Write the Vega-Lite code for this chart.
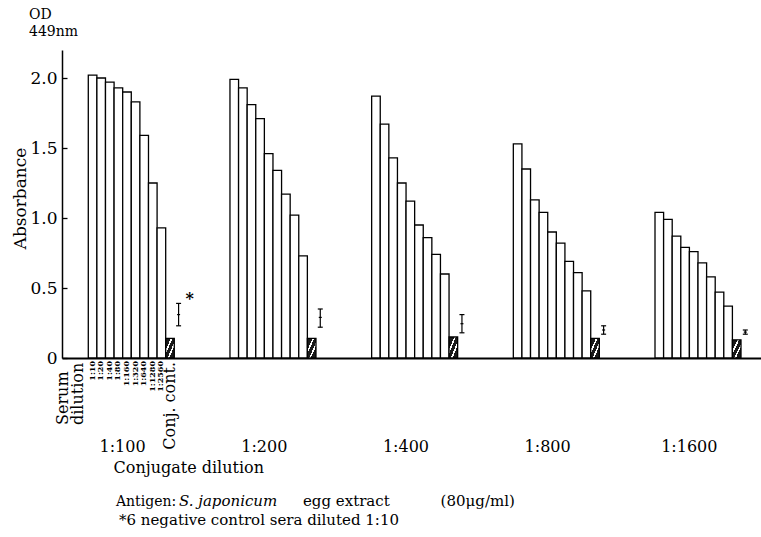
{
  "$schema": "https://vega.github.io/schema/vega-lite/v6.json",
  "width": 699,
  "height": 308,
  "autosize": {"type": "none"},
  "padding": {"left": 62, "top": 50, "right": 0, "bottom": 179},
  "background": "white",
  "config": {"font": "DejaVu Serif", "view": {"stroke": null}, "axis": {"grid": false}, "axisY": {"ticks": true, "tickSize": 5, "tickColor": "black", "tickWidth": 1.3, "labelOverlap": false}},
  "datasets": {
    "bars": [
      {"conj": "1:100", "serum": "1:10", "od": 2.02},
      {"conj": "1:100", "serum": "1:20", "od": 2.00},
      {"conj": "1:100", "serum": "1:40", "od": 1.97},
      {"conj": "1:100", "serum": "1:80", "od": 1.93},
      {"conj": "1:100", "serum": "1:160", "od": 1.90},
      {"conj": "1:100", "serum": "1:320", "od": 1.83},
      {"conj": "1:100", "serum": "1:640", "od": 1.59},
      {"conj": "1:100", "serum": "1:1280", "od": 1.25},
      {"conj": "1:100", "serum": "1:2560", "od": 0.93},
      {"conj": "1:100", "serum": "Conj. cont.", "od": 0.14},
      {"conj": "1:200", "serum": "1:10", "od": 1.99},
      {"conj": "1:200", "serum": "1:20", "od": 1.93},
      {"conj": "1:200", "serum": "1:40", "od": 1.81},
      {"conj": "1:200", "serum": "1:80", "od": 1.71},
      {"conj": "1:200", "serum": "1:160", "od": 1.46},
      {"conj": "1:200", "serum": "1:320", "od": 1.34},
      {"conj": "1:200", "serum": "1:640", "od": 1.17},
      {"conj": "1:200", "serum": "1:1280", "od": 1.02},
      {"conj": "1:200", "serum": "1:2560", "od": 0.73},
      {"conj": "1:200", "serum": "Conj. cont.", "od": 0.14},
      {"conj": "1:400", "serum": "1:10", "od": 1.87},
      {"conj": "1:400", "serum": "1:20", "od": 1.67},
      {"conj": "1:400", "serum": "1:40", "od": 1.43},
      {"conj": "1:400", "serum": "1:80", "od": 1.25},
      {"conj": "1:400", "serum": "1:160", "od": 1.12},
      {"conj": "1:400", "serum": "1:320", "od": 0.95},
      {"conj": "1:400", "serum": "1:640", "od": 0.86},
      {"conj": "1:400", "serum": "1:1280", "od": 0.74},
      {"conj": "1:400", "serum": "1:2560", "od": 0.60},
      {"conj": "1:400", "serum": "Conj. cont.", "od": 0.15},
      {"conj": "1:800", "serum": "1:10", "od": 1.53},
      {"conj": "1:800", "serum": "1:20", "od": 1.35},
      {"conj": "1:800", "serum": "1:40", "od": 1.13},
      {"conj": "1:800", "serum": "1:80", "od": 1.04},
      {"conj": "1:800", "serum": "1:160", "od": 0.90},
      {"conj": "1:800", "serum": "1:320", "od": 0.82},
      {"conj": "1:800", "serum": "1:640", "od": 0.69},
      {"conj": "1:800", "serum": "1:1280", "od": 0.61},
      {"conj": "1:800", "serum": "1:2560", "od": 0.48},
      {"conj": "1:800", "serum": "Conj. cont.", "od": 0.14},
      {"conj": "1:1600", "serum": "1:10", "od": 1.04},
      {"conj": "1:1600", "serum": "1:20", "od": 0.99},
      {"conj": "1:1600", "serum": "1:40", "od": 0.87},
      {"conj": "1:1600", "serum": "1:80", "od": 0.79},
      {"conj": "1:1600", "serum": "1:160", "od": 0.76},
      {"conj": "1:1600", "serum": "1:320", "od": 0.68},
      {"conj": "1:1600", "serum": "1:640", "od": 0.58},
      {"conj": "1:1600", "serum": "1:1280", "od": 0.47},
      {"conj": "1:1600", "serum": "1:2560", "od": 0.37},
      {"conj": "1:1600", "serum": "Conj. cont.", "od": 0.13}
    ],
    "neg": [
      {"conj": "1:100", "serum": "Neg. cont.", "mean": 0.31, "lo": 0.23, "hi": 0.39, "note": "*"},
      {"conj": "1:200", "serum": "Neg. cont.", "mean": 0.29, "lo": 0.22, "hi": 0.35, "note": ""},
      {"conj": "1:400", "serum": "Neg. cont.", "mean": 0.245, "lo": 0.18, "hi": 0.31, "note": ""},
      {"conj": "1:800", "serum": "Neg. cont.", "mean": 0.20, "lo": 0.17, "hi": 0.23, "note": ""},
      {"conj": "1:1600", "serum": "Neg. cont.", "mean": 0.185, "lo": 0.17, "hi": 0.20, "note": ""}
    ]
  },
  "layer": [
    {
      "data": {"name": "bars"},
      "transform": [{"filter": "datum.serum != 'Conj. cont.'"}],
      "mark": {"type": "bar", "fill": "white", "stroke": "black", "strokeWidth": 1.3},
      "encoding": {
        "x": {
          "field": "conj", "type": "nominal",
          "scale": {"domain": ["1:100", "1:200", "1:400", "1:800", "1:1600"], "paddingInner": 0.3323, "paddingOuter": 0.133, "align": 0.6976},
          "axis": {"title": "Conjugate dilution", "titleFontSize": 16, "titleFontWeight": "normal", "titleColor": "black", "titleX": 51, "titleY": 114, "titleAlign": "left", "titleAnchor": "start", "titleBaseline": "alphabetic", "labelFontSize": 16, "labelColor": "black", "labelPadding": 80, "labelOffset": -13, "labelAngle": 0, "ticks": false, "domainColor": "black", "domainWidth": 2}
        },
        "xOffset": {
          "field": "serum", "type": "nominal",
          "scale": {"domain": ["1:10", "1:20", "1:40", "1:80", "1:160", "1:320", "1:640", "1:1280", "1:2560", "Conj. cont.", "Neg. cont."], "paddingInner": 0, "paddingOuter": 0}
        },
        "y": {
          "field": "od", "type": "quantitative",
          "scale": {"domain": [0, 2.2], "nice": false, "zero": true},
          "axis": {"orient": "right", "offset": -699,
            "title": "Absorbance", "titleFontSize": 17, "titleFontWeight": "normal", "titleColor": "black", "titleX": -42, "titleY": 148, "titleAngle": 270, "titleBaseline": "middle", "titleAlign": "center",
            "values": [0, 0.5, 1.0, 1.5, 2.0],
            "labelExpr": "datum.value == 0 ? '0' : format(datum.value, '.1f')",
            "labelFontSize": 17, "labelColor": "black", "labelAlign": "right", "labelPadding": -10,
            "domainColor": "black", "domainWidth": 1.5}
        }
      }
    },
    {
      "data": {"name": "bars"},
      "transform": [{"filter": "datum.serum == 'Conj. cont.'"}],
      "mark": {"type": "bar", "stroke": "black", "strokeWidth": 1.3,
        "fill": {"gradient": "linear", "x1": 0, "y1": 0, "x2": 1, "y2": 1, "stops": [
          {"offset": 0, "color": "#1a1a1a"}, {"offset": 0.3, "color": "#1a1a1a"}, {"offset": 0.3, "color": "#ffffff"}, {"offset": 0.4, "color": "#ffffff"},
          {"offset": 0.4, "color": "#1a1a1a"}, {"offset": 0.6, "color": "#1a1a1a"}, {"offset": 0.6, "color": "#ffffff"}, {"offset": 0.7, "color": "#ffffff"},
          {"offset": 0.7, "color": "#1a1a1a"}, {"offset": 1, "color": "#1a1a1a"}]}},
      "encoding": {
        "x": {"field": "conj", "type": "nominal"},
        "xOffset": {"field": "serum", "type": "nominal"},
        "y": {"field": "od", "type": "quantitative"}
      }
    },
    {
      "data": {"name": "neg"},
      "mark": {"type": "rule", "stroke": "black", "strokeWidth": 1.2},
      "encoding": {
        "x": {"field": "conj", "type": "nominal"},
        "xOffset": {"field": "serum", "type": "nominal"},
        "y": {"field": "lo", "type": "quantitative"},
        "y2": {"field": "hi"}
      }
    },
    {
      "data": {"name": "neg"},
      "transform": [{"fold": ["lo", "hi"], "as": ["k", "v"]}],
      "mark": {"type": "tick", "color": "black", "size": 5, "thickness": 1.2, "opacity": 1},
      "encoding": {
        "x": {"field": "conj", "type": "nominal"},
        "xOffset": {"field": "serum", "type": "nominal"},
        "y": {"field": "v", "type": "quantitative"}
      }
    },
    {
      "data": {"name": "neg"},
      "mark": {"type": "tick", "color": "black", "size": 3, "thickness": 1.2, "opacity": 1},
      "encoding": {
        "x": {"field": "conj", "type": "nominal"},
        "xOffset": {"field": "serum", "type": "nominal"},
        "y": {"field": "mean", "type": "quantitative"}
      }
    },
    {
      "data": {"name": "neg"},
      "transform": [{"filter": "datum.note != ''"}],
      "mark": {"type": "text", "fontSize": 16, "fontWeight": "bold", "color": "black", "dx": 11, "dy": -4, "baseline": "middle"},
      "encoding": {
        "x": {"field": "conj", "type": "nominal"},
        "xOffset": {"field": "serum", "type": "nominal"},
        "y": {"field": "hi", "type": "quantitative"},
        "text": {"field": "note"}
      }
    },
    {
      "data": {"name": "bars"},
      "transform": [{"filter": "datum.conj == '1:100' && datum.serum != 'Conj. cont.'"}],
      "mark": {"type": "text", "angle": 270, "align": "right", "baseline": "middle", "fontSize": 8, "fontWeight": "bold", "color": "black", "dx": -3},
      "encoding": {
        "x": {"field": "conj", "type": "nominal"},
        "xOffset": {"field": "serum", "type": "nominal"},
        "y": {"datum": 0},
        "text": {"field": "serum"}
      }
    },
    {
      "data": {"name": "bars"},
      "transform": [{"filter": "datum.conj == '1:100' && datum.serum == 'Conj. cont.'"}],
      "mark": {"type": "text", "angle": 270, "align": "right", "baseline": "middle", "fontSize": 16, "color": "black", "dx": -4},
      "encoding": {
        "x": {"field": "conj", "type": "nominal"},
        "xOffset": {"field": "serum", "type": "nominal"},
        "y": {"datum": 0},
        "text": {"field": "serum"}
      }
    },
    {
      "data": {"values": [{}]},
      "mark": {"type": "text", "text": ["Serum", "dilution"], "angle": 270, "align": "left", "baseline": "middle", "fontSize": 16, "lineHeight": 15, "color": "black", "dx": -67, "dy": -30},
      "encoding": {
        "x": {"datum": "1:100", "type": "nominal"},
        "xOffset": {"datum": "1:10", "type": "nominal"},
        "y": {"datum": 0, "type": "quantitative"}
      }
    },
    {
      "data": {"values": [{}]},
      "mark": {"type": "text", "text": "OD", "align": "left", "baseline": "alphabetic", "fontSize": 14, "color": "black", "dx": -106.6, "dy": -31},
      "encoding": {
        "x": {"datum": "1:100", "type": "nominal"},
        "y": {"datum": 2.2, "type": "quantitative"}
      }
    },
    {
      "data": {"values": [{}]},
      "mark": {"type": "text", "text": "449nm", "align": "left", "baseline": "alphabetic", "fontSize": 14, "color": "black", "dx": -106.6, "dy": -14},
      "encoding": {
        "x": {"datum": "1:100", "type": "nominal"},
        "y": {"datum": 2.2, "type": "quantitative"}
      }
    },
    {
      "data": {"values": [{}]},
      "mark": {"type": "text", "text": "Antigen:", "align": "left", "baseline": "alphabetic", "fontSize": 14, "color": "black", "dx": -19.6},
      "encoding": {
        "x": {"datum": "1:100", "type": "nominal"},
        "y": {"datum": -1.06, "type": "quantitative"}
      }
    },
    {
      "data": {"values": [{}]},
      "mark": {"type": "text", "text": "S. japonicum", "align": "left", "baseline": "alphabetic", "fontSize": 15, "fontStyle": "italic", "color": "black", "dx": 43.4},
      "encoding": {
        "x": {"datum": "1:100", "type": "nominal"},
        "y": {"datum": -1.06, "type": "quantitative"}
      }
    },
    {
      "data": {"values": [{}]},
      "mark": {"type": "text", "text": "egg extract", "align": "left", "baseline": "alphabetic", "fontSize": 15, "color": "black", "dx": 167.4},
      "encoding": {
        "x": {"datum": "1:100", "type": "nominal"},
        "y": {"datum": -1.06, "type": "quantitative"}
      }
    },
    {
      "data": {"values": [{}]},
      "mark": {"type": "text", "text": "(80μg/ml)", "align": "left", "baseline": "alphabetic", "fontSize": 15, "color": "black", "dx": 305},
      "encoding": {
        "x": {"datum": "1:100", "type": "nominal"},
        "y": {"datum": -1.06, "type": "quantitative"}
      }
    },
    {
      "data": {"values": [{}]},
      "mark": {"type": "text", "text": "*6 negative control sera diluted 1:10", "align": "left", "baseline": "alphabetic", "fontSize": 15, "color": "black", "dx": -16.6},
      "encoding": {
        "x": {"datum": "1:100", "type": "nominal"},
        "y": {"datum": -1.19, "type": "quantitative"}
      }
    }
  ]
}
